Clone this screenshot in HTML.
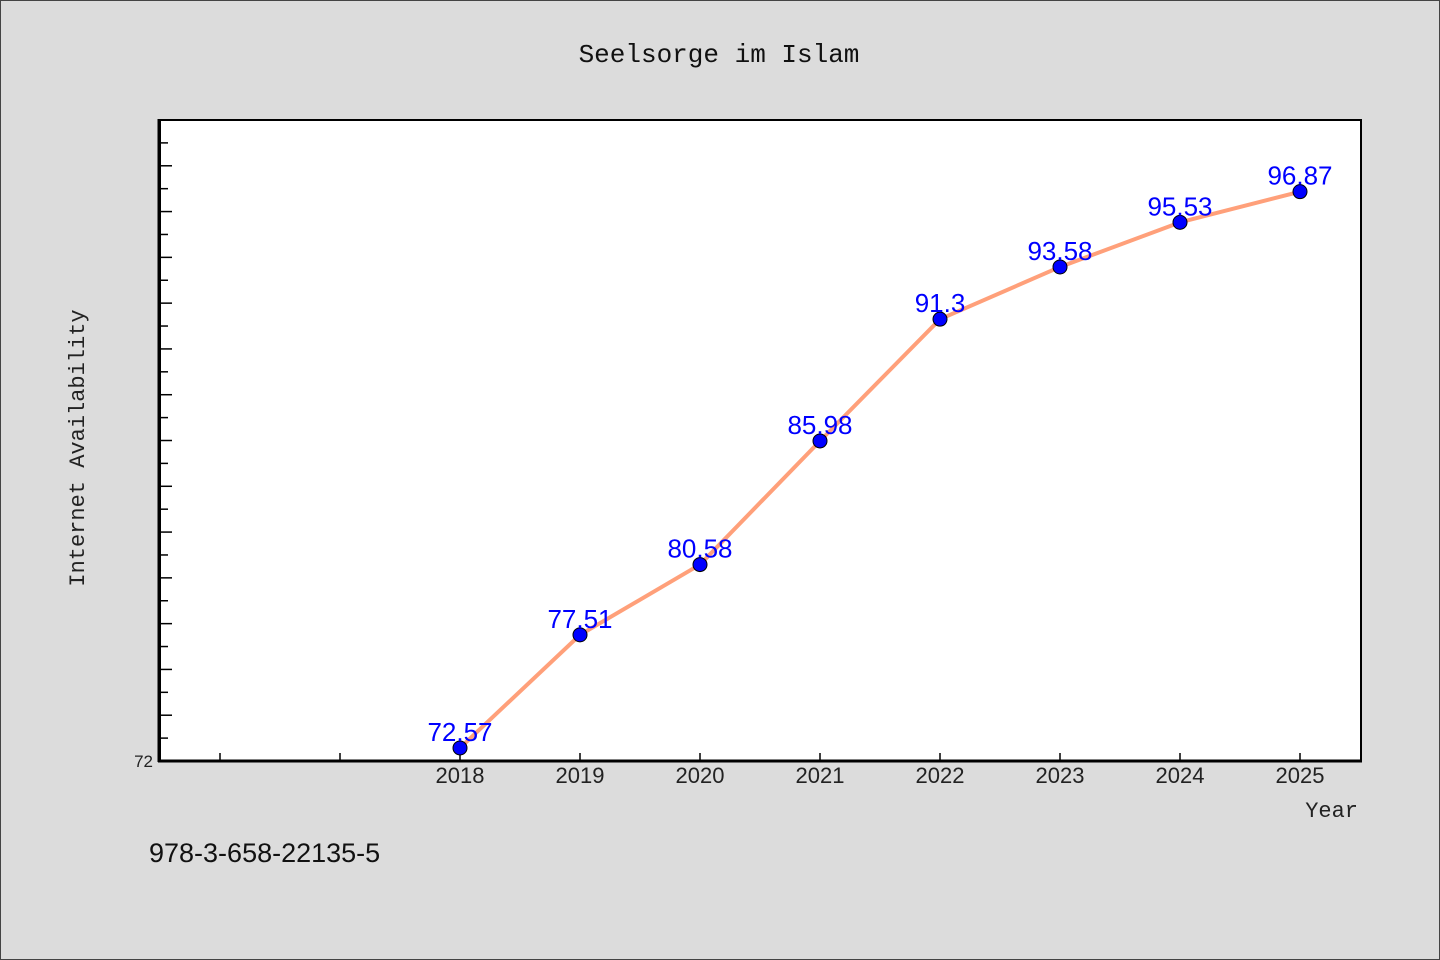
<!DOCTYPE html>
<html><head><meta charset="utf-8"><style>
body{margin:0;background:#dcdcdc;}
svg{display:block}
</style></head><body>
<svg width="1440" height="960" xmlns="http://www.w3.org/2000/svg">
<rect x="0.5" y="0.5" width="1439" height="959" fill="#dcdcdc" stroke="#444" stroke-width="1"/>
<text x="719" y="62" text-anchor="middle" font-family="Liberation Mono, monospace" font-size="26" fill="#111">Seelsorge im Islam</text>
<rect x="160" y="120" width="1201" height="641" fill="#fff" stroke="#000" stroke-width="2"/>
<g id="ticks"></g>
<line x1="159" y1="119" x2="159" y2="762" stroke="#000" stroke-width="3"/>
<line x1="158" y1="761" x2="1362" y2="761" stroke="#000" stroke-width="3"/>
<g id="series"></g>
<text transform="translate(84,448) rotate(-90)" text-anchor="middle" font-family="Liberation Mono, monospace" font-size="22" fill="#222">Internet Availability</text>
<text x="1358" y="817" text-anchor="end" font-family="Liberation Mono, monospace" font-size="22" fill="#222">Year</text>
<text x="149" y="862" font-family="Liberation Sans, sans-serif" font-size="27" fill="#111">978-3-658-22135-5</text>
</svg>
<script>
const years=[2018,2019,2020,2021,2022,2023,2024,2025];
const values=[72.57,77.51,80.58,85.98,91.3,93.58,95.53,96.87];
const labels=["72.57","77.51","80.58","85.98","91.3","93.58","95.53","96.87"];
const NS="http://www.w3.org/2000/svg";
const x=v=>220+(v-2016)*120;
const y=v=>761-(v-72)*(641/28);
function mk(t,a,p){const e=document.createElementNS(NS,t);for(const k in a)e.setAttribute(k,a[k]);p.appendChild(e);return e;}
const tg=document.getElementById('ticks');
for(let v=73;v<100;v++){const L=v%2===0?12:8;
 const t=mk('line',{x1:160,x2:160+L,y1:y(v),y2:y(v),stroke:'#000','stroke-width':1.5},tg);
 
 }
const yl=mk('text',{x:153,y:767,'text-anchor':'end','font-family':'Liberation Sans, sans-serif','font-size':17,fill:'#222'},tg);yl.textContent='72';


for(let yr=2016;yr<=2025;yr++){
 const t=mk('line',{x1:x(yr),x2:x(yr),y1:761,y2:753,stroke:'#000','stroke-width':1.5},tg);
 
 
 if(years.includes(yr)){const l=mk('text',{x:x(yr),y:783,'text-anchor':'middle','font-family':'Liberation Sans, sans-serif','font-size':22,fill:'#222'},tg);l.textContent=yr;
 
 }
}
const sg=document.getElementById('series');
const line=mk('polyline',{points:years.map((yr,i)=>x(yr)+','+y(values[i])).join(' '),fill:'none',stroke:'#ffa07a','stroke-width':4,'stroke-linejoin':'round'},sg);


years.forEach((yr,i)=>{
 const c=mk('circle',{cx:x(yr),cy:y(values[i]),r:7,fill:'#0000ff',stroke:'#000','stroke-width':1},sg);
 
 
 const l=mk('text',{x:x(yr),y:y(values[i])-7,'text-anchor':'middle','font-family':'Liberation Sans, sans-serif','font-size':26,fill:'#0000ff'},sg);l.textContent=labels[i];
 
 
});
</script>
</body></html>
